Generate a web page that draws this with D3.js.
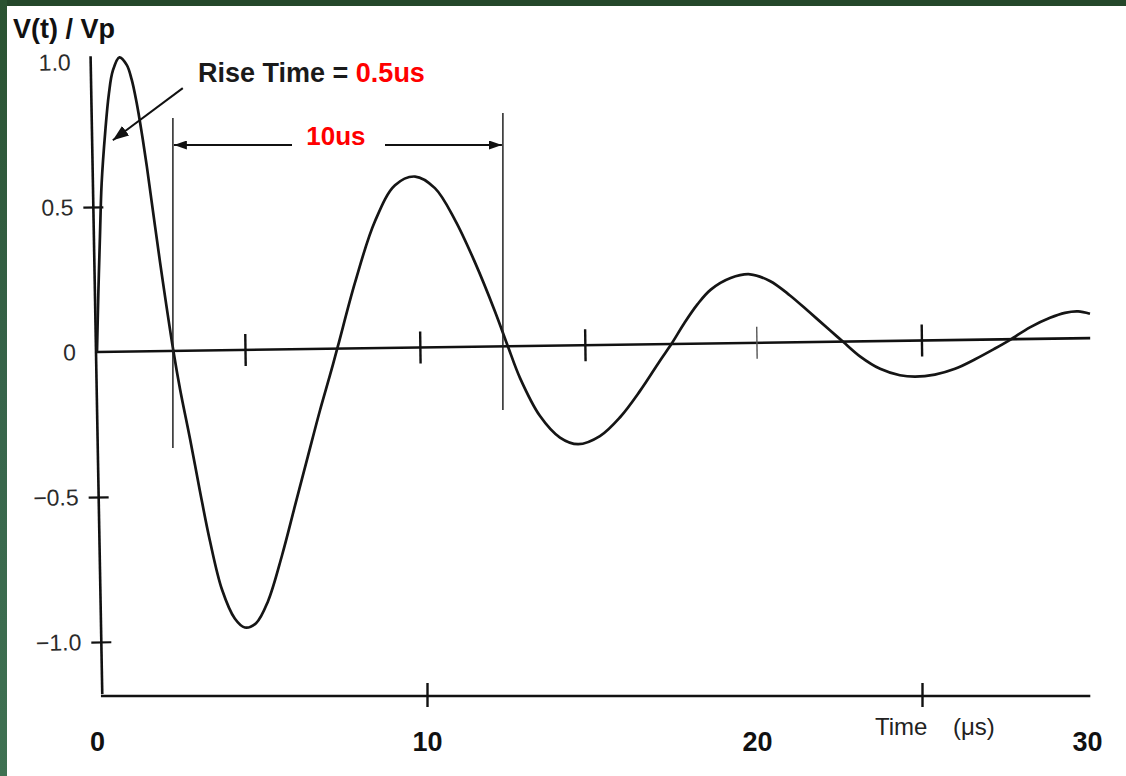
<!DOCTYPE html>
<html>
<head>
<meta charset="utf-8">
<script src="https://cdn.jsdelivr.net/npm/d3@7"></script>
<style>
  html, body { margin: 0; padding: 0; background: #ffffff; }
  svg { display: block; }
</style>
</head>
<body>
<svg id="chart" width="1126" height="776"></svg>
<script>
// Damped ringing waveform: normalised voltage V(t)/Vp against time (µs)
const timeUs = [0, 0.04, 0.09, 0.14, 0.25, 0.36, 0.48, 0.68, 0.90, 1.05, 1.20, 1.35, 1.51,
  1.91, 2.32, 2.52, 2.82, 3.12, 3.42, 3.79, 4.18, 4.48, 4.82, 5.18, 5.61, 6.00, 6.39, 6.76,
  7.06, 7.30, 7.82, 8.42, 9.03, 9.64, 10.24, 10.85, 11.45, 12.06, 12.45, 12.82, 13.42, 14.03, 14.58,
  15.24, 15.85, 16.45, 17.06, 17.42, 17.80, 18.20, 18.60, 19.20, 19.79, 20.39, 21.00, 21.61, 22.21, 22.61,
  23.12, 23.73, 24.33, 24.79, 25.39, 26.00, 26.61, 27.21, 27.67, 28.27, 28.88, 29.33, 29.73, 30.09];
const voltage = [0, 0.2, 0.4, 0.58, 0.76, 0.89, 0.97, 1.016, 0.99, 0.94, 0.86, 0.76, 0.64,
  0.31, 0.0, -0.13, -0.30, -0.48, -0.65, -0.82, -0.92, -0.95, -0.935, -0.86, -0.70, -0.53, -0.36, -0.20,
  -0.08, 0.02, 0.24, 0.45, 0.575, 0.605, 0.565, 0.455, 0.31, 0.14, 0.02, -0.09, -0.22, -0.295, -0.318,
  -0.29, -0.225, -0.135, -0.03, 0.03, 0.10, 0.165, 0.215, 0.255, 0.268, 0.245, 0.195, 0.135, 0.075, 0.035,
  -0.015, -0.058, -0.08, -0.085, -0.078, -0.058, -0.025, 0.012, 0.042, 0.085, 0.118, 0.135, 0.14, 0.132];

const yTickValues = [1.0, 0.5, 0, -0.5, -1.0];
const yTickLabels = ["1.0", "0.5", "0", "\u22120.5", "\u22121.0"];
const yTickMarks = [0.5, -0.5, -1.0];
const xLabelValues = [0, 10, 20, 30];
const xLabelText = ["0", "10", "20", "30"];
const xAxisTicks = [10, 25];
const baselineTicks = [4.5, 9.8, 14.8, 20.0, 25.0];
const riseTimeUs = 0.5;
const periodStartUs = 2.3;
const periodUs = 10;

const FONT = "'Liberation Sans', Arial, Helvetica, sans-serif";
const W = 1126, H = 776;

const svg = d3.select("#chart");

// Dark green frame strips along the top and left edges
const defs = svg.append("defs");
const grad = defs.append("linearGradient").attr("id", "frameGreen")
  .attr("x1", 0).attr("y1", 0).attr("x2", 0).attr("y2", 1);
grad.append("stop").attr("offset", "0%").attr("stop-color", "#2a5231");
grad.append("stop").attr("offset", "50%").attr("stop-color", "#37644a");
grad.append("stop").attr("offset", "100%").attr("stop-color", "#3f7152");

svg.append("rect").attr("x", 0).attr("y", 0).attr("width", W).attr("height", H).attr("fill", "#ffffff");
svg.append("rect").attr("x", 0).attr("y", 0).attr("width", W).attr("height", 6).attr("fill", "#24472a");
svg.append("rect").attr("x", 0).attr("y", 0).attr("width", 7).attr("height", H).attr("fill", "url(#frameGreen)");

// Arrowhead markers
function marker(id, len, wid) {
  defs.append("marker").attr("id", id)
    .attr("viewBox", `0 0 ${len} ${wid}`)
    .attr("markerUnits", "userSpaceOnUse")
    .attr("markerWidth", len).attr("markerHeight", wid)
    .attr("refX", len).attr("refY", wid / 2)
    .attr("orient", "auto")
    .append("path").attr("d", `M0,0 L${len},${wid / 2} L0,${wid} Z`).attr("fill", "#111");
}
marker("arrowBig", 16, 12);
marker("arrowDim", 13, 9);

// Scales
const x = d3.scaleLinear().domain([0, 30]).range([97, 1087]);
const y = d3.scaleLinear().domain([-1, 1]).range([642, 62]);

const data = timeUs.map((t, i) => ({ t, v: voltage[i] }));

// Vertical axis (slightly skewed as drawn)
const yAxisG = svg.append("g")
  .attr("transform", `rotate(-1.05, ${x(0) - 1}, ${y(0)})`)
  .append("g").attr("transform", `translate(${x(0) - 1},0)`);

yAxisG.call(d3.axisLeft(y)
  .tickValues(yTickValues)
  .tickFormat((d, i) => yTickLabels[i])
  .tickSize(10)
  .tickPadding(10));
yAxisG.select(".domain").remove();
yAxisG.selectAll(".tick line").each(function (d) {
  const sel = d3.select(this);
  if (yTickMarks.includes(d)) {
    sel.attr("x1", 10).attr("x2", -10).attr("stroke", "#111").attr("stroke-width", 2.2);
  } else {
    sel.remove();
  }
});
yAxisG.selectAll(".tick text")
  .attr("font-family", FONT).attr("font-size", 23).attr("fill", "#2b2b2b");
yAxisG.append("line")
  .attr("x1", 0).attr("x2", 0)
  .attr("y1", y(1.02)).attr("y2", y(-1.18))
  .attr("stroke", "#111").attr("stroke-width", 2.6);

// Zero reference line with its tick marks (slightly tilted as drawn)
const baseG = svg.append("g")
  .attr("transform", `rotate(-0.8, ${x(0)}, ${y(0)})`);
baseG.append("line")
  .attr("x1", x(0)).attr("x2", x(30.1))
  .attr("y1", y(0)).attr("y2", y(0))
  .attr("stroke", "#111").attr("stroke-width", 2.6);
baseG.selectAll("line.btick").data(baselineTicks).join("line")
  .attr("class", "btick")
  .attr("x1", d => x(d)).attr("x2", d => x(d))
  .attr("y1", y(0) - 16).attr("y2", y(0) + 16)
  .attr("stroke", (d, i) => i === 3 ? "#555" : "#111")
  .attr("stroke-width", (d, i) => i === 3 ? 1.4 : 2.4);

// Bottom time axis
const xAxisY = 696;
const xAxisG = svg.append("g").attr("transform", `translate(0,${xAxisY})`);
xAxisG.call(d3.axisBottom(x).tickValues(xAxisTicks).tickSize(11).tickFormat(""));
xAxisG.select(".domain").remove();
xAxisG.selectAll(".tick line")
  .attr("y1", -13).attr("stroke", "#111").attr("stroke-width", 2.4);
xAxisG.append("line")
  .attr("x1", x(0.12)).attr("x2", x(30.1))
  .attr("y1", 0).attr("y2", 0)
  .attr("stroke", "#111").attr("stroke-width", 2.6);

const xLabG = svg.append("g").attr("transform", `translate(0,${xAxisY})`);
xLabG.call(d3.axisBottom(x).tickValues(xLabelValues)
  .tickFormat((d, i) => xLabelText[i]).tickSize(0).tickPadding(36));
xLabG.select(".domain").remove();
xLabG.selectAll(".tick text")
  .attr("font-family", FONT).attr("font-size", 27).attr("font-weight", "bold").attr("fill", "#111");

// Axis title, with the wide gap between word and unit
const timeTitle = svg.append("text")
  .attr("y", 735)
  .attr("font-family", FONT).attr("font-size", 24).attr("fill", "#222");
timeTitle.append("tspan").attr("x", 875).text("Time");
timeTitle.append("tspan").attr("x", 953).text("(\u03bcs)");

// Y title
svg.append("text")
  .attr("x", 13).attr("y", 38)
  .attr("font-family", FONT).attr("font-size", 27).attr("font-weight", "bold").attr("fill", "#111")
  .text("V(t) / Vp");

// Waveform
const line = d3.line()
  .x(d => x(d.t)).y(d => y(d.v))
  .curve(d3.curveCatmullRom.alpha(0.5));
svg.append("path")
  .datum(data)
  .attr("d", line)
  .attr("fill", "none")
  .attr("stroke", "#151515")
  .attr("stroke-width", 2.7)
  .attr("stroke-linejoin", "round");

// Rise-time annotation
svg.append("line")
  .attr("x1", x(2.6)).attr("y1", y(0.91))
  .attr("x2", x(0.48)).attr("y2", y(0.73))
  .attr("stroke", "#111").attr("stroke-width", 2)
  .attr("marker-end", "url(#arrowBig)");

const riseText = svg.append("text")
  .attr("x", 198).attr("y", 82)
  .attr("font-family", FONT).attr("font-size", 27).attr("font-weight", "bold");
riseText.append("tspan").attr("fill", "#1a1a1a").text("Rise Time = ");
riseText.append("tspan").attr("fill", "#ff0000").text(`${riseTimeUs}us`);

// Period dimension annotation
const pX0 = x(periodStartUs), pX1 = x(periodStartUs + periodUs);
const dimY = 145;
svg.append("line").attr("x1", pX0).attr("x2", pX0).attr("y1", 118).attr("y2", 448)
  .attr("stroke", "#222").attr("stroke-width", 1.5);
svg.append("line").attr("x1", pX1).attr("x2", pX1).attr("y1", 113).attr("y2", 410)
  .attr("stroke", "#222").attr("stroke-width", 1.5);
svg.append("line").attr("x1", 292).attr("x2", pX0 + 1).attr("y1", dimY).attr("y2", dimY)
  .attr("stroke", "#111").attr("stroke-width", 2).attr("marker-end", "url(#arrowDim)");
svg.append("line").attr("x1", 385).attr("x2", pX1 - 1).attr("y1", dimY).attr("y2", dimY)
  .attr("stroke", "#111").attr("stroke-width", 2).attr("marker-end", "url(#arrowDim)");
svg.append("text")
  .attr("x", (pX0 + pX1) / 2 - 2).attr("y", dimY)
  .attr("text-anchor", "middle")
  .attr("font-family", FONT).attr("font-size", 26).attr("font-weight", "bold").attr("fill", "#ff0000")
  .text(`${periodUs}us`);
</script>
</body>
</html>
